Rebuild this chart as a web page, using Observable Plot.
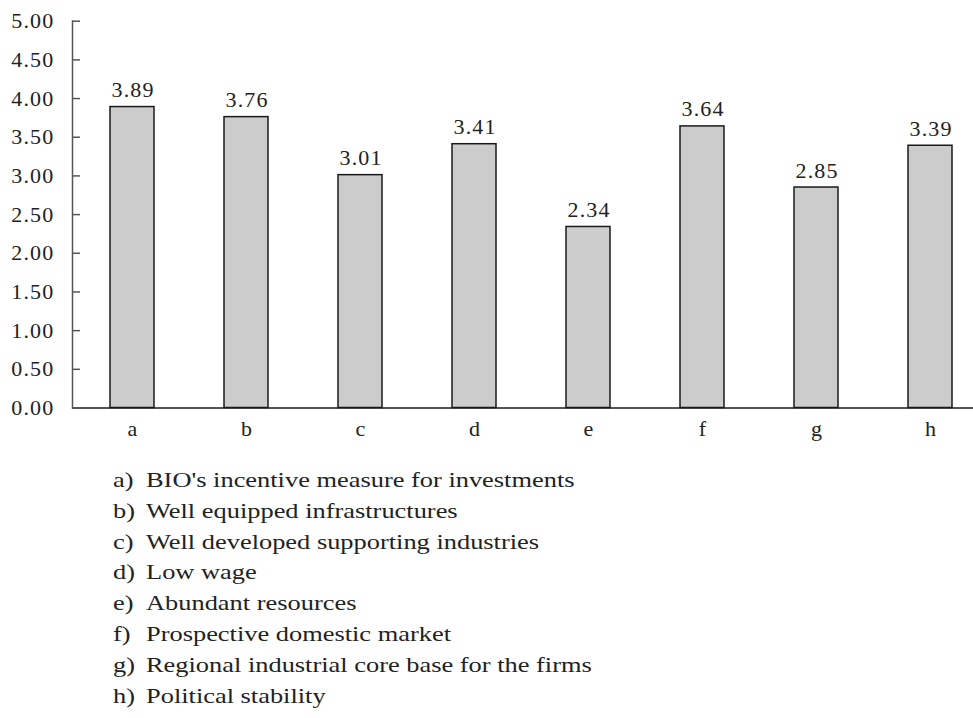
<!DOCTYPE html>
<html>
<head>
<meta charset="utf-8">
<script src="https://cdn.jsdelivr.net/npm/d3@7"></script>
<script src="https://cdn.jsdelivr.net/npm/@observablehq/plot@0.6"></script>
<style>
  html, body { margin: 0; padding: 0; background: #fff; }
  #chart svg { display: block; }
  #chart svg text { letter-spacing: 1.2px; }
  #legend { font-family: "Liberation Serif", "Times New Roman", serif; font-size: 22px; color: #222;
            padding-top: 15px; }
  #legend .row { position: relative; height: 30.8px; line-height: 30.8px; white-space: nowrap; }
  #legend .key { position: absolute; left: 113px; transform: scaleX(1.2); transform-origin: left center; }
  #legend .desc { position: absolute; left: 146px; transform: scaleX(1.2); transform-origin: left center; }
</style>
</head>
<body>
<div id="chart"></div>
<div id="legend"></div>
<script>
const categories = ["a", "b", "c", "d", "e", "f", "g", "h"];
const values = [3.89, 3.76, 3.01, 3.41, 2.34, 3.64, 2.85, 3.39];
const descriptions = [
  "BIO's incentive measure for investments",
  "Well equipped infrastructures",
  "Well developed supporting industries",
  "Low wage",
  "Abundant resources",
  "Prospective domestic market",
  "Regional industrial core base for the firms",
  "Political stability"
];
const yTicks = [0, 0.5, 1, 1.5, 2, 2.5, 3, 3.5, 4, 4.5, 5];

const data = categories.map((c, i) => ({cat: c, value: values[i]}));

const plot = Plot.plot({
  width: 973,
  height: 450,
  marginLeft: 72,
  marginRight: 0,
  marginTop: 20.7,
  marginBottom: 42.5,
  style: {fontFamily: "'Liberation Serif', 'Times New Roman', serif", fontSize: "22px", color: "#222", background: "#fff"},
  x: {domain: categories, range: [74.7, 986.7], paddingInner: 0.614, paddingOuter: 0.307, align: 0.5, label: null},
  y: {domain: [0, 5], label: null},
  marks: [
    Plot.barY(data, {x: "cat", y: "value", fill: "#cccccc", stroke: "#1a1a1a", strokeWidth: 1.5}),
    Plot.text(data, {x: "cat", y: "value", text: d => d.value.toFixed(2), dy: -17, dx: 0.6, fill: "#222", fontSize: 22}),
    Plot.ruleY([0], {stroke: "#1a1a1a", strokeWidth: 1.5}),
    Plot.frame({anchor: "left", stroke: "#555", strokeWidth: 1.5}),
    Plot.axisY({ticks: yTicks, tickSize: 8, dx: 8, tickFormat: () => "", stroke: "#555", strokeWidth: 1.5}),
    Plot.axisY({ticks: yTicks, tickSize: 0, tickPadding: 18, tickFormat: d => d.toFixed(2), fill: "#222", fontSize: 22}),
    Plot.axisX({tickSize: 0, tickPadding: 12, dx: 0.6, fill: "#222", fontSize: 22})
  ]
});
document.getElementById("chart").appendChild(plot);

const legend = document.getElementById("legend");
categories.forEach((c, i) => {
  const row = document.createElement("div");
  row.className = "row";
  const key = document.createElement("span");
  key.className = "key";
  key.textContent = `${c})`;
  const desc = document.createElement("span");
  desc.className = "desc";
  desc.textContent = descriptions[i];
  row.appendChild(key);
  row.appendChild(desc);
  legend.appendChild(row);
});
</script>
</body>
</html>
